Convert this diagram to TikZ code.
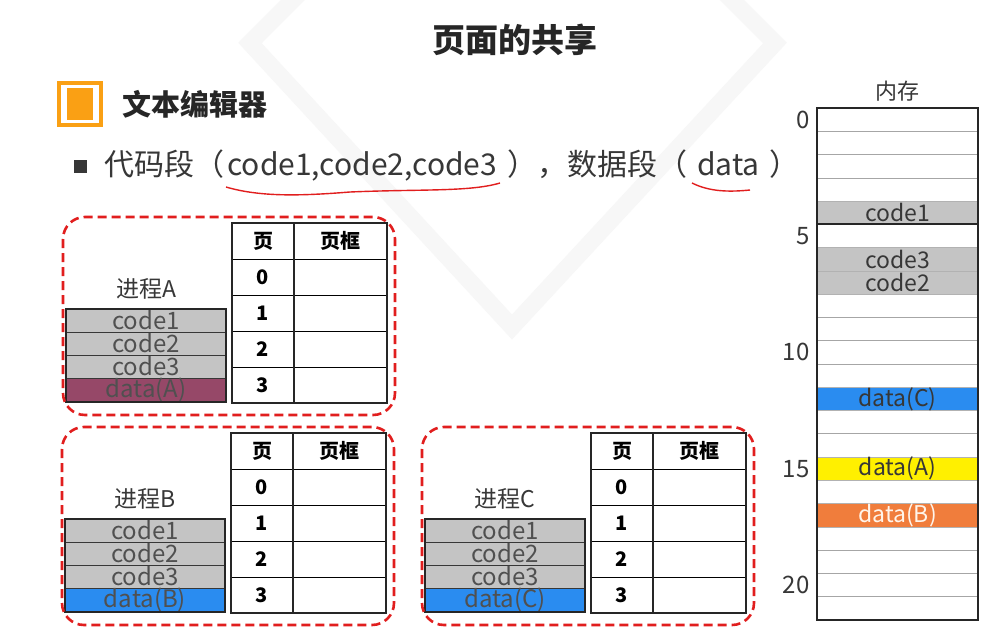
\documentclass[tikz,border=0pt]{standalone}
\usepackage{fontspec}
\setmainfont{Noto Sans CJK SC}
\usetikzlibrary{positioning}
\definecolor{codegray}{RGB}{196,196,196}
\definecolor{dataA}{RGB}{150,72,104}
\definecolor{dataB}{RGB}{42,140,240}
\definecolor{memyellow}{RGB}{255,240,0}
\definecolor{memorange}{RGB}{240,125,60}
\definecolor{dashred}{RGB}{225,30,30}
\definecolor{boxorange}{RGB}{250,160,20}
\definecolor{inkgray}{RGB}{55,55,55}
\definecolor{segtext}{RGB}{80,80,80}
\newcommand{\fsize}[1]{\fontsize{#1}{#1}\selectfont}
% one process: page table, segments and dashed frame
\newcommand{\procblock}[4]{%
  \begin{scope}[shift={#2}]
    \node [hcell, minimum width=62pt, anchor=north west] (#1ph) at (0,0) {页};
    \node [hcell, minimum width=93pt, right=0pt of #1ph] (#1fh) {页框};
    \foreach \r [remember=\r as \p (initially h)] in {0,...,3} {
      \node [cell, minimum width=62pt, below=0pt of #1p\p] (#1p\r) {\r};
      \node [cell, minimum width=93pt, right=0pt of #1p\r] (#1f\r) {};
    }
    \draw [frame] (#1ph.north west) rectangle (#1f3.south east);
    \draw [frame] (#1ph.north east) -- (#1p3.south east);
      \node [seg, anchor=north west] (#1s1) at (-166,86) {code1};
      \node [seg, below=0pt of #1s1] (#1s2) {code2};
      \node [seg, below=0pt of #1s2] (#1s3) {code3};
      \node [seg, fill=#4, below=0pt of #1s3] (#1sd) {data(#3)};
      \draw [frame] (#1s1.north west) rectangle (#1sd.south east);
      \node [plabel, above=6pt of #1s1] (#1name) {进程#3};
    \draw [procbox] (-169,-6) rectangle (163,192);
  \end{scope}}

\begin{document}
\begin{tikzpicture}[x=1pt, y=-1pt, node distance=0pt,
    cell/.style={draw=black, line width=0.8pt, minimum height=36pt, inner sep=0pt, outer sep=0pt, font=\fsize{20}\bfseries},
    hcell/.style={cell, font=\fsize{20}\bfseries},
    frame/.style={draw=black!85, line width=2pt},
    seg/.style={draw=inkgray, line width=0.8pt, fill=codegray, minimum width=160pt, minimum height=23pt, inner sep=0pt, outer sep=0pt, text=segtext, font=\fsize{24}},
    plabel/.style={font=\fsize{23}, text=inkgray},
    procbox/.style={draw=dashred, line width=2.6pt, dash pattern=on 9pt off 5pt, rounded corners=22pt},
    memcell/.style={draw=gray!70, line width=0.6pt, minimum width=161pt, minimum height=23.27pt, inner sep=0pt, outer sep=0pt},
    memseg/.style={memcell, draw=gray!60, text=inkgray, font=\fsize{23}},
    memnum/.style={font=\fsize{24}, text=inkgray}]
  \useasboundingbox (0,0) rectangle (999,640);
  \clip (0,0) rectangle (999,640);
  \fill [white] (0,0) rectangle (999,640);
  \draw [gray!6, line width=17pt] (250,43) -- (512,-220) -- (775,43) -- (512,327) -- cycle;

  \node [font=\fsize{33}\bfseries, text=black!85] (title) at (515,40) {页面的共享};
  \node [draw=boxorange, line width=4pt, minimum size=42pt, inner sep=0pt] (icon) at (80,104) {};
    \node [fill=boxorange, minimum width=26pt, minimum height=32pt] (iconfill) at (icon) {};
  \node [font=\fsize{29}\bfseries, text=black!85, right=16pt of icon] (heading) {文本编辑器};
  \node [fill=inkgray, minimum size=13pt, inner sep=0pt] (bullet) at (80,166) {};
  \node [font=\fsize{30}, text=inkgray, right=14pt of bullet] (codeline)
    {代码段（\hspace{3pt}code1,code2,code3\hspace{10pt}），数据段（\hspace{10pt}data\hspace{10pt}）};
  \draw [dashred, line width=1.4pt] (226,187) .. controls (260,197) and (300,196) .. (350,192)
    .. controls (420,189) and (470,192) .. (500,183);
  \draw [dashred, line width=1.4pt] (692,183) .. controls (710,192) and (730,192) .. (750,190);

  \procblock{A}{(232,223)}{A}{dataA}
  \procblock{B}{(231,433)}{B}{dataB}
  \procblock{C}{(591,433)}{C}{dataB}

  % memory
  \node [memcell, anchor=north west] (mem0) at (817,108) {};
  \foreach \r [remember=\r as \p (initially 0)] in {1,...,21}
    \node [memcell, below=0pt of mem\p] (mem\r) {};
  \node [memseg, fill=codegray] (mcode1) at (mem4) {code1};
  \node [memseg, fill=codegray] (mcode3) at (mem6) {code3};
  \node [memseg, fill=codegray] (mcode2) at (mem7) {code2};
  \node [memseg, fill=dataB] (mdataC) at (mem12) {data(C)};
  \node [memseg, fill=memyellow] (mdataA) at (mem15) {data(A)};
  \node [memseg, fill=memorange, text=white!92!orange] (mdataB) at (mem17) {data(B)};
  \draw [frame] (mem0.north west) rectangle (mem21.south east);
  \draw [frame] (mem4.south west) -- (mem4.south east);
  \foreach \r in {0,5,...,20}
    \node [memnum, left=4pt of mem\r] (num\r) {\r};
  \node [font=\fsize{22}, text=inkgray, above=3pt of mem0] (memtitle) {内存};
\end{tikzpicture}
\end{document}
